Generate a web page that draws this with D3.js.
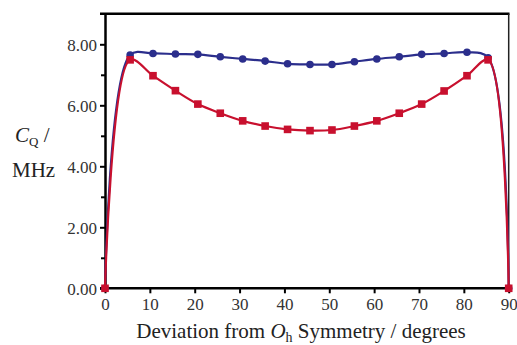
<!DOCTYPE html>
<html>
<head>
<meta charset="utf-8">
<script src="https://cdn.jsdelivr.net/npm/d3@7"></script>
<style>
  body { margin: 0; background: #fff; }
  text { font-family: "Liberation Serif", "DejaVu Serif", serif; fill: #222; }
</style>
</head>
<body>
<svg id="chart" width="517" height="345"></svg>
<script>
    // deviation angle (degrees)
    var angles = [0, 5.6, 10.7, 15.7, 20.7, 25.7, 30.7, 35.7, 40.7, 45.7, 50.6, 55.6, 60.6, 65.6, 70.6, 75.6, 80.7, 85.4, 90];
    var blueCq = [0, 7.65, 7.70, 7.68, 7.67, 7.59, 7.52, 7.45, 7.36, 7.34, 7.34, 7.43, 7.52, 7.59, 7.67, 7.70, 7.74, 7.56, 0];
    var redCq  = [0, 7.49, 6.97, 6.48, 6.04, 5.74, 5.49, 5.32, 5.21, 5.17, 5.19, 5.32, 5.49, 5.74, 6.04, 6.47, 6.97, 7.49, 0];
    var xTicks = [0, 10, 20, 30, 40, 50, 60, 70, 80, 90];
    var yTicks = [0, 2, 4, 6, 8];
    var yMinor = [1, 3, 5, 7];

    var svg = d3.select("#chart");

    var x = d3.scaleLinear().domain([0, 90]).range([105, 508.7]);
    var y = d3.scaleLinear().domain([0, 9]).range([288.3, 13.8]);

    // frame: top and right border
    svg.append("line")
        .attr("x1", 100).attr("x2", 509.5)
        .attr("y1", y(9)).attr("y2", y(9))
        .style("stroke", "#000").style("stroke-width", 2.5);
    svg.append("line")
        .attr("x1", x(90)).attr("x2", x(90))
        .attr("y1", y(9)).attr("y2", y(0))
        .style("stroke", "#222").style("stroke-width", 1.5);

    // minor y ticks
    svg.append("g")
        .attr("transform", "translate(" + x(0) + ",0)")
        .call(d3.axisLeft(y).tickValues(yMinor).tickSize(4).tickFormat(""))
        .call(function (g) { g.select(".domain").remove(); })
        .selectAll("line").style("stroke", "#000").style("stroke-width", 2);

    var yAxis = svg.append("g")
        .attr("transform", "translate(" + x(0) + ",0)")
        .call(d3.axisLeft(y).tickValues(yTicks).tickSize(5).tickSizeOuter(0).tickPadding(3)
            .tickFormat(d3.format(".2f")));

    var xAxis = svg.append("g")
        .attr("transform", "translate(0," + y(0) + ")")
        .call(d3.axisBottom(x).tickValues(xTicks).tickSize(5).tickSizeOuter(0).tickPadding(5));

    [xAxis, yAxis].forEach(function (g) {
        g.attr("font-family", "Liberation Serif, serif");
        g.select(".domain").style("stroke", "#000").style("stroke-width", 2.5);
        g.selectAll(".tick line").style("stroke", "#000").style("stroke-width", 2);
        g.selectAll(".tick text")
            .style("font-family", "Liberation Serif, serif")
            .style("font-size", "17px")
            .style("fill", "#333");
    });
    xAxis.select(".domain").attr("d", "M100,0H" + x(90));
    yAxis.selectAll(".tick text").attr("dy", "0.38em");

    // series
    var line = d3.line()
        .x(function (d) { return x(d[0]); })
        .y(function (d) { return y(d[1]); })
        .curve(d3.curveCatmullRom.alpha(0.5));

    var blue = angles.map(function (a, i) { return [a, blueCq[i]]; });
    var red = angles.map(function (a, i) { return [a, redCq[i]]; });

    svg.append("path").datum(blue)
        .attr("d", line)
        .style("fill", "none").style("stroke", "#2b2e8c").style("stroke-width", 2.2);
    svg.selectAll(".bdot").data(blue).enter()
        .append("circle").attr("class", "bdot")
        .attr("cx", function (d) { return x(d[0]); })
        .attr("cy", function (d) { return y(d[1]); })
        .attr("r", 3.8)
        .style("fill", "#2b2e8c");

    svg.append("path").datum(red)
        .attr("d", line)
        .style("fill", "none").style("stroke", "#c8102e").style("stroke-width", 2.2);
    svg.selectAll(".rdot").data(red).enter()
        .append("rect").attr("class", "rdot")
        .attr("x", function (d) { return x(d[0]) - 3.8; })
        .attr("y", function (d) { return y(d[1]) - 3.8; })
        .attr("width", 7.6).attr("height", 7.6)
        .style("fill", "#c8102e");

    // axis titles
    var xt = svg.append("text")
        .attr("x", 301).attr("y", 338)
        .attr("text-anchor", "middle")
        .style("font-size", "21px");
    xt.append("tspan").text("Deviation from ");
    xt.append("tspan").style("font-style", "italic").text("O");
    xt.append("tspan").attr("dy", 4).style("font-size", "14px").text("h");
    xt.append("tspan").attr("dy", -4).text(" Symmetry / degrees");

    var yt = svg.append("text")
        .attr("x", 15).attr("y", 142)
        .style("font-size", "21px");
    yt.append("tspan").style("font-style", "italic").text("C");
    yt.append("tspan").attr("dy", 4).style("font-size", "13px").text("Q");
    yt.append("tspan").attr("dy", -4).text(" /");

    svg.append("text")
        .attr("x", 12).attr("y", 177)
        .style("font-size", "21px")
        .text("MHz");
</script>
</body>
</html>
